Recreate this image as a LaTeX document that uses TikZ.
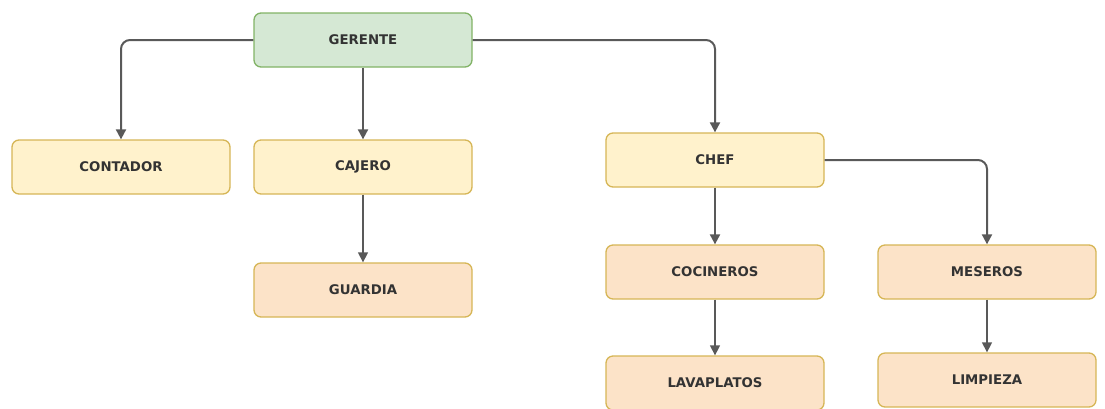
\documentclass[tikz,border=0pt]{standalone}
\usepackage{fontspec}
\setmainfont{DejaVu Sans}
\usetikzlibrary{arrows.meta}

\definecolor{bossfill}{HTML}{D5E8D4}
\definecolor{bossline}{HTML}{82B366}
\definecolor{midfill}{HTML}{FFF2CC}
\definecolor{lowfill}{HTML}{FCE3C8}
\definecolor{boxline}{HTML}{D6B656}

\tikzset{
  box/.style={draw=boxline, rounded corners=7pt, line width=1.3pt, minimum width=218pt,
    minimum height=54pt, font=\fontsize{13.3}{15}\selectfont\bfseries, text=black!80},
  boss/.style={box, fill=bossfill, draw=bossline},
  mid/.style={box, fill=midfill},
  low/.style={box, fill=lowfill},
  link/.style={-{Triangle[length=10pt,width=10pt]}, draw=black!65, line width=2pt, rounded corners=9pt},
  thin link/.style={link, line width=1.3pt}
}

\begin{document}
\begin{tikzpicture}[x=1pt,y=-1pt]
    \useasboundingbox (0,0) rectangle (1105,408);

    \node[boss] (ger) at (363,40) {GERENTE};
    \node[mid] (cont) at (121,167) {CONTADOR};
    \node[mid] (caj) at (363,167) {CAJERO};
    \node[low] (guar) at (363,290) {GUARDIA};
    \node[mid] (chef) at (715,160) {CHEF};
    \node[low] (coc) at (715,272) {COCINEROS};
    \node[low] (lav) at (715,383) {LAVAPLATOS};
    \node[low] (mes) at (987,272) {MESEROS};
    \node[low] (lim) at (987,380) {LIMPIEZA};

    \draw[link] (ger.west) -| (cont.north);
    \draw[link] (ger) -- (caj);
    \draw[link] (ger.east) -| (chef.north);
    \draw[thin link] (caj) -- (guar);
    \draw[link] (chef) -- (coc);
    \draw[link] (chef.east) -| (mes.north);
    \draw[thin link] (coc) -- (lav);
    \draw[thin link] (mes) -- (lim);
\end{tikzpicture}
\end{document}
